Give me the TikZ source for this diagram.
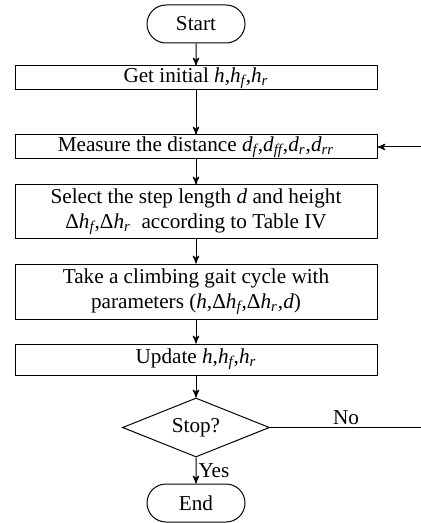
\documentclass[tikz,border=0pt]{standalone}
\usepackage{fontspec}
\setmainfont{Liberation Serif}
\usetikzlibrary{arrows,positioning,shapes.geometric,shapes.misc}

\newcommand{\sbi}[1]{\textsubscript{\itshape #1}}
\newcommand{\vh}{\textit{h}}
\newcommand{\vd}{\textit{d}}

\begin{document}
\begin{tikzpicture}[->,>=stealth',line width=0.5pt,x=0.5pt,y=-0.5pt,
  node distance=12pt]
  \tikzstyle{every node}=[font=\fontsize{10.6}{12.5}\selectfont]
  \tikzstyle{terminal}=[rounded rectangle,draw,minimum width=49pt,
    minimum height=19pt,inner sep=0pt]
  \tikzstyle{process}=[rectangle,draw,minimum width=181pt,
    minimum height=12pt,inner sep=0.5pt,align=center]
  \tikzstyle{decision}=[diamond,draw,aspect=2.5,minimum width=73.5pt,
    minimum height=29.5pt,inner sep=0pt]

  \useasboundingbox (0,0) rectangle (421,523);

  \node[terminal] (start) at (196,24) {Start};
  \node[process]  (init)    [below=11pt of start]  {Get initial \vh,\vh\sbi{f},\vh\sbi{r}};
  \node[process]  (measure) [below=22pt of init]
    {Measure the distance \vd\sbi{f},\vd\sbi{ff},\vd\sbi{r},\vd\sbi{rr}};
  \node[process,minimum height=27pt]   (select) [below=12.5pt of measure]
    {Select the step length \vd{} and height\\
     Δ\vh\sbi{f},Δ\vh\sbi{r}\ \ according to Table IV};
  \node[process,minimum height=27.5pt] (gait)   [below=of select]
    {Take a climbing gait cycle with\\
     parameters (\vh,Δ\vh\sbi{f},Δ\vh\sbi{r},\vd)};
  \node[process,minimum height=15.5pt] (update) [below=of gait]
    {Update \vh,\vh\sbi{f},\vh\sbi{r}};
  \node[decision] (stop)   [below=11pt of update] {Stop?};
  \node[terminal] (finish) [below=13pt of stop]   {End};
  \coordinate[right=76pt of stop.east] (back);

  \path (start)   edge (init)
        (init)    edge (measure)
        (measure) edge (select)
        (select)  edge (gait)
        (gait)    edge (update)
        (update)  edge (stop)
        (stop)    edge node[right,inner sep=1pt] {Yes} (finish);
  \draw (stop.east) -- node[above,inner sep=1pt] {No} (back) |- (measure.east);
\end{tikzpicture}
\end{document}
